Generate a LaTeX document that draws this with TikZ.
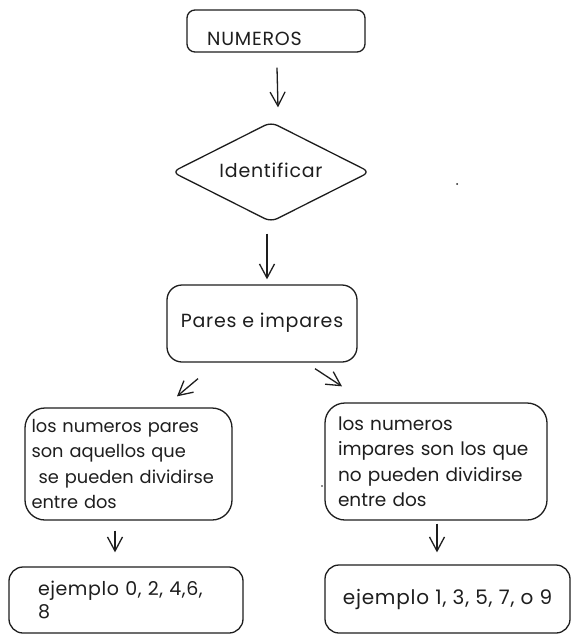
\documentclass[tikz,border=0pt]{standalone}
\usepackage{fontspec}
\setmainfont{Poppins}[LetterSpace=4]
\newfontfamily\fb{Poppins}
\newfontfamily\fc{Poppins}[LetterSpace=3]
\usetikzlibrary{arrows.meta,shapes.geometric,calc}
\definecolor{ink}{HTML}{1E1E1E}
\begin{document}
\begin{tikzpicture}[x=1pt,y=-1pt,
  box/.style={draw=ink, line width=1.3pt, rounded corners=#1, inner sep=0pt},
  box/.default=10pt,
  txt/.style={text=ink, inner sep=0pt, font=\fontsize{19}{25.5}\selectfont},
  arr/.style={draw=ink, line width=1.3pt, -{Straight Barb[length=14pt,width=15pt,line width=1.3pt]}}]
\useasboundingbox[fill=white] (0,0) rectangle (580,643);
% boxes
\node[box=8pt, minimum width=178pt, minimum height=42pt] (num) at (276,31) {};
\node[txt, anchor=base west] (numt) at (207,45) {NUMEROS};
\node[diamond, draw=ink, line width=1.3pt, rounded corners=7pt, minimum width=198pt, minimum height=100pt, inner sep=0pt, txt] (ident) at (271,172) {\makebox[0pt]{\raisebox{3pt}{Identificar}}};
\node[box=15pt, minimum width=190pt, minimum height=77pt, txt] (pares) at (262,323.5) {\raisebox{6pt}{Pares e impares}};
\node[box=20pt, minimum width=207pt, minimum height=112pt, txt, font=\fb\fontsize{17.8}{25.5}\selectfont, align=left, text width=194pt, inner xsep=6.5pt] (lbox) at (128.5,464)
  {\mbox{los numeros pares}\\\mbox{son aquellos que}\\\mbox{\hspace*{0.4em}se pueden dividirse}\\\mbox{entre dos}};
\node[box=20pt, minimum width=222pt, minimum height=117pt, txt, font=\fb\fontsize{18.5}{25.5}\selectfont, align=left, text width=196pt, inner xsep=13pt] (rbox) at (436,461.5)
  {\mbox{los numeros}\\\mbox{impares son los que}\\\mbox{no pueden dividirse}\\\mbox{entre dos}};
\node[box=14pt, minimum width=234pt, minimum height=66pt, txt, align=left, text width=176pt, inner xsep=29pt, font=\fc\fontsize{19}{23}\selectfont] (lex) at (126,600)
  {\mbox{ejemplo 0, 2, 4,6,}\\8};
\node[box=14pt, minimum width=245pt, minimum height=68pt, txt, font=\fontsize{20}{24}\selectfont] (rex) at (447.5,599) {ejemplo 1, 3, 5, 7, o 9};
% connectors
\draw[arr] ([shift={(1,15)}]num.south) -- ([shift={(7,-14)}]ident.north);
\draw[arr] ([shift={(-4,11)}]ident.south) -- ([shift={(5,-5)}]pares.north);
\draw[arr] ([shift={(-64,16)}]pares.south) -- ([shift={(48.5,-11)}]lbox.north);
\draw[arr] ([shift={(53,6)}]pares.south) -- ([shift={(-94,-16)}]rbox.north);
\draw[arr] ([shift={(-13.5,10)}]lbox.south) -- ([shift={(-11,-14)}]lex.north);
\draw[arr] ([shift={(1,3)}]rbox.south) -- ([shift={(-10.5,-12)}]rex.north);
% stray specks
\fill[ink] (457,184) circle (1pt);
\fill[ink] (322,486) circle (0.8pt);
\end{tikzpicture}
\end{document}
